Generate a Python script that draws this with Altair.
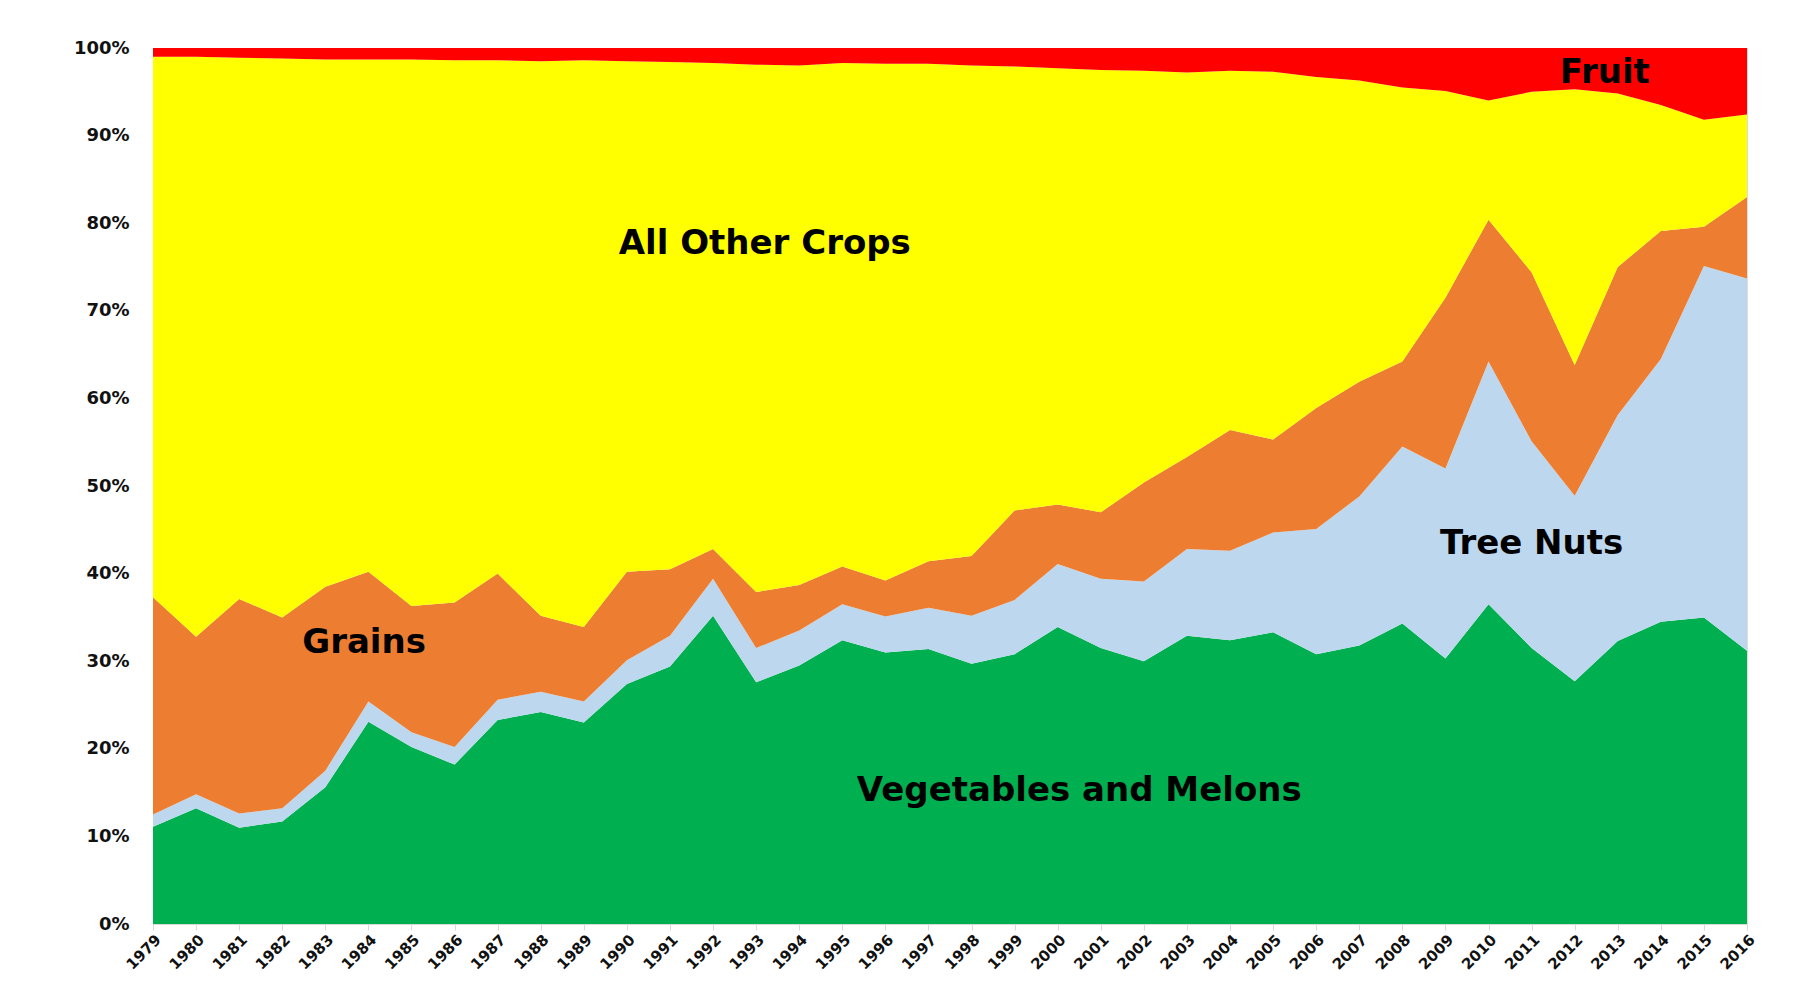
import altair as alt
import pandas as pd

years = list(range(1979, 2017))

# Shares of each crop group (percent of total)
vegetables = [11.1, 13.2, 11.0, 11.7, 15.6, 23.1, 20.2, 18.2, 23.3, 24.2,
              23.0, 27.4, 29.4, 35.2, 27.6, 29.5, 32.4, 31.0, 31.4, 29.7,
              30.8, 33.9, 31.5, 30.0, 32.9, 32.4, 33.3, 30.8, 31.8, 34.3,
              30.3, 36.5, 31.5, 27.7, 32.3, 34.5, 35.0, 31.2]
tree_nuts = [1.4, 1.6, 1.6, 1.5, 1.9, 2.3, 1.7, 2.0, 2.3, 2.3,
             2.4, 2.7, 3.5, 4.2, 3.9, 4.0, 4.1, 4.1, 4.7, 5.5,
             6.2, 7.2, 7.9, 9.1, 9.9, 10.2, 11.4, 14.3, 17.0, 20.2,
             21.7, 27.7, 23.6, 21.2, 25.8, 30.0, 40.1, 42.5]
grains = [24.8, 18.0, 24.5, 21.8, 21.0, 14.8, 14.4, 16.5, 14.4, 8.7,
          8.5, 10.1, 7.6, 3.4, 6.4, 5.2, 4.3, 4.1, 5.3, 6.8,
          10.2, 6.8, 7.6, 11.3, 10.5, 13.8, 10.6, 13.8, 13.1, 9.7,
          19.5, 16.2, 19.3, 14.9, 16.9, 14.6, 4.5, 9.3]
other_crops = [61.7, 66.2, 61.8, 63.8, 60.2, 58.5, 62.4, 61.9, 58.6, 63.3,
               64.7, 58.3, 57.9, 55.5, 60.2, 59.3, 57.5, 59.0, 56.8, 56.0,
               50.7, 49.8, 50.5, 47.0, 43.9, 41.0, 42.0, 37.8, 34.4, 31.3,
               23.6, 13.6, 20.6, 31.5, 19.8, 14.4, 12.2, 9.4]
fruit = [1.0, 1.0, 1.1, 1.2, 1.3, 1.3, 1.3, 1.4, 1.4, 1.5,
         1.4, 1.5, 1.6, 1.7, 1.9, 2.0, 1.7, 1.8, 1.8, 2.0,
         2.1, 2.3, 2.5, 2.6, 2.8, 2.6, 2.7, 3.3, 3.7, 4.5,
         4.9, 6.0, 5.0, 4.7, 5.2, 6.5, 8.2, 7.6]

series_names = ["Vegetables and Melons", "Tree Nuts", "Grains", "All Other Crops", "Fruit"]
series_values = [vegetables, tree_nuts, grains, other_crops, fruit]
series_colors = ["#00B050", "#BDD7EE", "#ED7D31", "#FFFF00", "#FF0000"]

# In-chart labels (year position, share of total)
label_text = ["All Other Crops", "Grains", "Vegetables and Melons", "Tree Nuts", "Fruit"]
label_year = [1993.2, 1983.9, 2000.5, 2011.0, 2012.7]
label_share = [0.776, 0.321, 0.152, 0.434, 0.972]

y_ticks = [i / 10 for i in range(11)]

rows = []
for order_idx, (name, vals) in enumerate(zip(series_names, series_values)):
    for yr, v in zip(years, vals):
        rows.append({"year": yr, "crop": name, "value": v, "ord": order_idx})
df = pd.DataFrame(rows)

labels_df = pd.DataFrame({"text": label_text, "year": label_year, "share": label_share})

x_scale = alt.Scale(domain=[1979, 2016], nice=False, zero=False)
y_scale = alt.Scale(domain=[0, 1], nice=False)

area = alt.Chart(df).mark_area(interpolate="linear", strokeWidth=0).encode(
    x=alt.X("year:Q", scale=x_scale,
            axis=alt.Axis(values=years, format="d", labelAngle=-45, title=None,
                          grid=False, domainColor="#D9D9D9", tickColor="#D9D9D9",
                          tickSize=6, labelFont="DejaVu Sans", labelFontWeight="bold",
                          labelFontSize=15, labelColor="#111111", labelPadding=2,
                          labelAlign="right", labelBaseline="top")),
    y=alt.Y("value:Q", stack="normalize", scale=y_scale,
            axis=alt.Axis(values=y_ticks, format=".0%", title=None, grid=False,
                          domain=False, ticks=False, labelPadding=24,
                          labelFont="DejaVu Sans", labelFontWeight="bold",
                          labelFontSize=18, labelColor="#111111")),
    color=alt.Color("crop:N", scale=alt.Scale(domain=series_names, range=series_colors),
                    legend=None),
    order=alt.Order("ord:Q", sort="ascending"),
)

text = alt.Chart(labels_df).mark_text(
    font="DejaVu Sans", fontWeight="bold", fontSize=34, color="#000000",
    align="center", baseline="middle"
).encode(
    x=alt.X("year:Q", scale=x_scale),
    y=alt.Y("share:Q", scale=y_scale),
    text="text:N",
)

chart = alt.layer(area, text).properties(
    width=1594, height=876,
    autosize=alt.AutoSizeParams(type="none"),
    padding={"left": 145, "top": 40, "right": 40, "bottom": 60},
).configure_view(stroke=None).configure(background="white")

chart.save("out.html", embed_options={"renderer": "svg", "actions": False})
